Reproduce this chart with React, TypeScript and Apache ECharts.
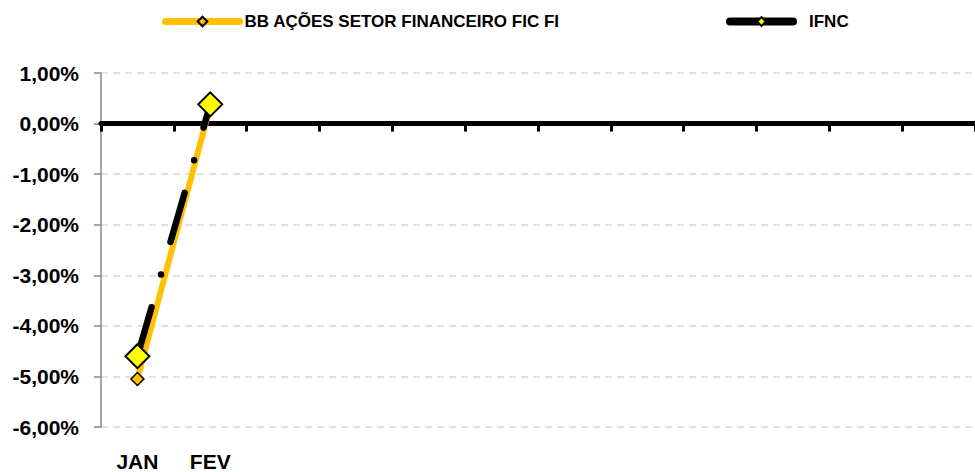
import React, { useEffect, useRef } from "react";
import * as echarts from "echarts";

const months = ["JAN", "FEV", "", "", "", "", "", "", "", "", "", ""];
const bbFundValues = [-5.05, 0.35];
const ifncValues = [-4.6, 0.38];
const seriesNames = ["BB AÇÕES SETOR FINANCEIRO FIC FI", "IFNC"];
const yMin = -6;
const yMax = 1;
const yStep = 1;

const FONT = "Liberation Sans";

export default function App() {
  const ref = useRef<HTMLDivElement>(null);
  useEffect(() => {
    if (!ref.current) return;
    const chart = echarts.init(ref.current, undefined, { renderer: "svg" });
    chart.setOption({
      animation: false,
      backgroundColor: "#ffffff",
      textStyle: { fontFamily: FONT },
      legend: [
        {
          data: [
            {
              name: seriesNames[0],
              lineStyle: { width: 7, type: "solid", cap: "round", color: "#FFC000" },
            },
          ],
          left: 162,
          top: 13,
          padding: 0,
          itemWidth: 74,
          itemHeight: 12,
          textStyle: { fontFamily: FONT, fontWeight: "bold", fontSize: 17, color: "#000" },
        },
        {
          data: [
            {
              name: seriesNames[1],
              lineStyle: { width: 8, type: "solid", cap: "round", color: "#000" },
            },
          ],
          left: 726,
          top: 13,
          padding: 0,
          itemWidth: 63,
          itemHeight: 11,
          textStyle: {
            fontFamily: FONT,
            fontWeight: "bold",
            fontSize: 17,
            color: "#000",
            padding: [0, 0, 0, 11],
          },
        },
      ],
      grid: { left: 101, right: -2, top: 73, bottom: 44, containLabel: false },
      xAxis: [
        {
          type: "category",
          data: months,
          boundaryGap: true,
          axisLine: { onZero: true, lineStyle: { color: "#000", width: 5 } },
          axisTick: { show: true, length: 8, lineStyle: { color: "#000", width: 3 } },
          axisLabel: { show: false },
          splitLine: { show: false },
          z: 1,
        },
        {
          type: "category",
          data: months,
          boundaryGap: true,
          position: "bottom",
          axisLine: { show: false, onZero: false },
          axisTick: { show: false },
          axisLabel: {
            show: true,
            margin: 24,
            fontFamily: FONT,
            fontWeight: "bold",
            fontSize: 21,
            color: "#000",
            interval: 0,
          },
          splitLine: { show: false },
        },
      ],
      yAxis: {
        type: "value",
        min: yMin,
        max: yMax,
        interval: yStep,
        axisLine: { show: true, lineStyle: { color: "#868686", width: 1.5 } },
        axisTick: { show: true, length: 7, lineStyle: { color: "#868686", width: 1.5 } },
        axisLabel: {
          margin: 22,
          fontFamily: FONT,
          fontWeight: "bold",
          fontSize: 21,
          color: "#000",
          formatter: (v: number) => v.toFixed(2).replace(".", ",").replace("-0,00", "0,00") + "%",
        },
        splitLine: {
          show: true,
          lineStyle: { color: "#d9d9d9", width: 1.5, type: [7, 5] },
        },
      },
      series: [
        {
          name: seriesNames[0],
          type: "line",
          data: bbFundValues,
          xAxisIndex: 0,
          symbol: "diamond",
          symbolSize: 13,
          lineStyle: { color: "#FFC000", width: 6, cap: "round" },
          itemStyle: { color: "#FFC000", borderColor: "#000", borderWidth: 1.5 },
          z: 2,
        },
        {
          name: seriesNames[1],
          type: "line",
          data: ifncValues,
          xAxisIndex: 0,
          symbol: "diamond",
          symbolSize: 24,
          lineStyle: { color: "#000", width: 6.5, cap: "round", type: [51, 34, 0, 34] },
          itemStyle: { color: "#FFFF00", borderColor: "#000", borderWidth: 2 },
          z: 3,
        },
      ],
    });
    return () => chart.dispose();
  }, []);
  return (
    <div
      ref={ref}
      style={{ position: "fixed", left: 0, top: 0, width: 975, height: 472 }}
    />
  );
}
